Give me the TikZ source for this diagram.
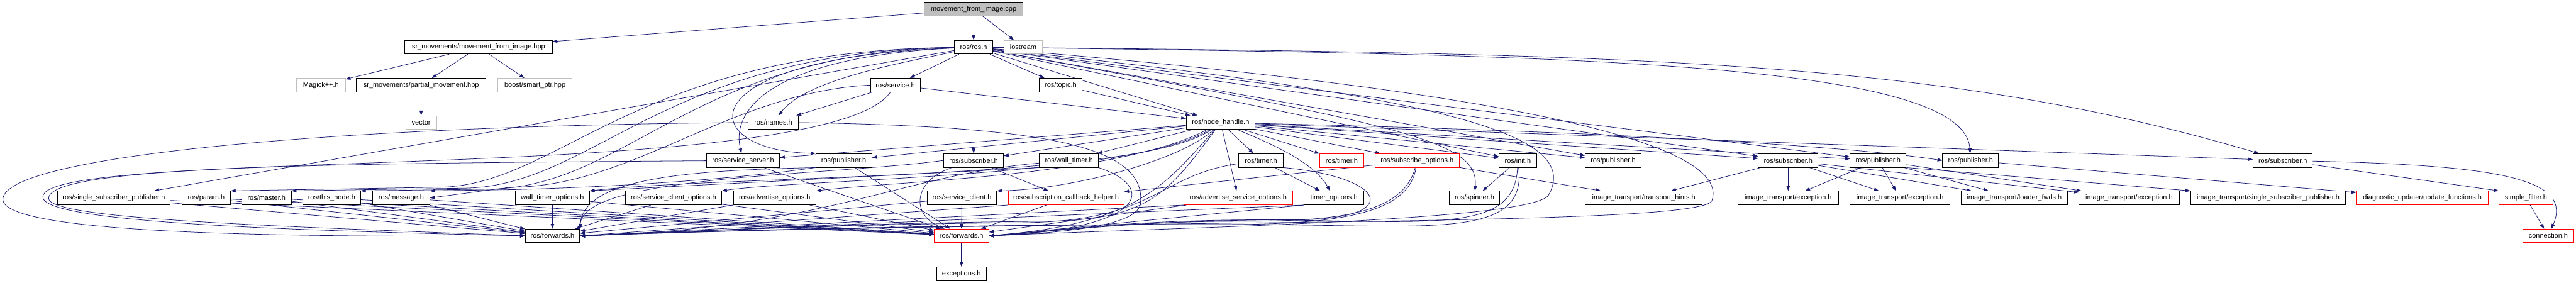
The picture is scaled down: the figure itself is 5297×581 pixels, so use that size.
\documentclass[tikz,border=0pt]{standalone}
\usepackage{fontspec}
\setmainfont{Liberation Sans}
\usetikzlibrary{arrows.meta,backgrounds}
\definecolor{edgeblue}{HTML}{191970}
\definecolor{nodegray}{HTML}{BFBFBF}
\tikzstyle{hdr}=[draw=black, fill=white, line width=1.2pt, minimum height=28pt, inner sep=2pt, font=\fontsize{14.2}{17}\selectfont]
\tikzstyle{extfile}=[hdr, draw=nodegray]
\tikzstyle{cutoff}=[hdr, draw=red]
\tikzstyle{mainfile}=[hdr, fill=nodegray]
\tikzstyle{incl}=[edgeblue, line width=1pt, -{Triangle[length=10pt,width=7pt]}]

\begin{document}
\begin{tikzpicture}[x=1pt,y=1pt]
\begin{scope}[on background layer]
\fill[white] (0,0) rectangle (5297,-581);
\end{scope}
\useasboundingbox (0,0) rectangle (5297,-581);

\node[mainfile, minimum width=203pt] (cpp) at (2002,-19) {movement\_from\_image.cpp};

\node[hdr, minimum width=303pt] (mfih) at (984,-97) {sr\_movements/movement\_from\_image.hpp};
\node[hdr, minimum width=79pt] (rosh) at (2002,-97) {ros/ros.h};
\node[extfile, minimum width=79pt] (iostream) at (2104,-97) {iostream};

\node[extfile, minimum width=100pt] (magick) at (660,-175) {Magick++.h};
\node[hdr, minimum width=267pt] (partial) at (866,-175) {sr\_movements/partial\_movement.hpp};
\node[extfile, minimum width=153pt] (smartptr) at (1100,-175) {boost/smart\_ptr.hpp};
\node[hdr, minimum width=102pt] (service) at (1841,-175) {ros/service.h};
\node[hdr, minimum width=89pt] (topic) at (2181,-175) {ros/topic.h};

\node[extfile, minimum width=63pt] (vector) at (866,-252) {vector};
\node[hdr, minimum width=103pt] (names) at (1590,-252) {ros/names.h};
\node[hdr, minimum width=141pt] (nh) at (2510,-252) {ros/node\_handle.h};

\node[hdr, minimum width=150pt] (srvserver) at (1528,-330) {ros/service\_server.h};
\node[hdr, minimum width=115pt] (pub1) at (1735,-330) {ros/publisher.h};
\node[hdr, minimum width=123pt] (sub1) at (2002,-330) {ros/subscriber.h};
\node[hdr, minimum width=121pt] (walltimer) at (2198,-330) {ros/wall\_timer.h};
\node[hdr, minimum width=91pt] (timer1) at (2593,-330) {ros/timer.h};
\node[cutoff, minimum width=90pt] (timer2) at (2759,-330) {ros/timer.h};
\node[cutoff, minimum width=173pt] (subopts) at (2914,-330) {ros/subscribe\_options.h};
\node[hdr, minimum width=77pt] (init) at (3121,-330) {ros/init.h};
\node[hdr, minimum width=115pt] (pub2) at (3317,-330) {ros/publisher.h};
\node[hdr, minimum width=123pt] (sub2) at (3677,-330) {ros/subscriber.h};
\node[hdr, minimum width=115pt] (pub3) at (3862,-330) {ros/publisher.h};
\node[hdr, minimum width=115pt] (pub4) at (4052,-330) {ros/publisher.h};
\node[hdr, minimum width=122pt] (sub3) at (4694,-330) {ros/subscriber.h};

\node[hdr, minimum width=231pt] (ssp) at (234,-407) {ros/single\_subscriber\_publisher.h};
\node[hdr, minimum width=100pt] (param) at (424,-407) {ros/param.h};
\node[hdr, minimum width=102pt] (master) at (548,-407) {ros/master.h};
\node[hdr, minimum width=119pt] (thisnode) at (682,-407) {ros/this\_node.h};
\node[hdr, minimum width=117pt] (message) at (825,-407) {ros/message.h};
\node[hdr, minimum width=152pt] (wtopts) at (1136,-407) {wall\_timer\_options.h};
\node[hdr, minimum width=198pt] (scopts) at (1385,-407) {ros/service\_client\_options.h};
\node[hdr, minimum width=170pt] (advopts) at (1593,-407) {ros/advertise\_options.h};
\node[hdr, minimum width=143pt] (srvclient) at (1978,-407) {ros/service\_client.h};
\node[cutoff, minimum width=238pt] (schelper) at (2192,-407) {ros/subscription\_callback\_helper.h};
\node[cutoff, minimum width=223pt] (asopts) at (2546,-407) {ros/advertise\_service\_options.h};
\node[hdr, minimum width=123pt] (timeropts) at (2743,-407) {timer\_options.h};
\node[hdr, minimum width=104pt] (spinner) at (3032,-407) {ros/spinner.h};
\node[hdr, minimum width=240pt] (hints) at (3380,-407) {image\_transport/transport\_hints.h};
\node[hdr, minimum width=207pt] (exc1) at (3677,-407) {image\_transport/exception.h};
\node[hdr, minimum width=206pt] (exc2) at (3907,-407) {image\_transport/exception.h};
\node[hdr, minimum width=219pt] (loader) at (4142,-407) {image\_transport/loader\_fwds.h};
\node[hdr, minimum width=207pt] (exc3) at (4378,-407) {image\_transport/exception.h};
\node[hdr, minimum width=319pt] (itssp) at (4664,-407) {image\_transport/single\_subscriber\_publisher.h};
\node[cutoff, minimum width=271pt] (diagupd) at (4981,-407) {diagnostic\_updater/update\_functions.h};
\node[cutoff, minimum width=111pt] (simplefilter) at (5194,-407) {simple\_filter.h};

\node[hdr, minimum width=112pt] (fwd1) at (1136,-485) {ros/forwards.h};
\node[cutoff, minimum width=112pt] (fwd2) at (1977,-485) {ros/forwards.h};
\node[cutoff, minimum width=104pt] (connection) at (5240,-485) {connection.h};

\node[hdr, minimum width=102pt] (exceptions) at (1977,-563) {exceptions.h};

\begin{scope}[on background layer]
\draw[incl] (cpp) -- (mfih);
\draw[incl] (cpp) -- (rosh);
\draw[incl] (cpp) -- (iostream);
\draw[incl] (mfih) -- (magick);
\draw[incl] (mfih) -- (partial);
\draw[incl] (mfih) -- (smartptr);
\draw[incl] (partial) -- (vector);

\draw[incl] (rosh) -- (service);
\draw[incl] (rosh) -- (topic);
\draw[incl] (rosh) -- (nh);
\draw[incl] (rosh) -- (sub1);
\draw[incl] (rosh) .. controls (1880,-125) and (1660,-160) .. (names);
\draw[incl] (rosh) -- (ssp);
\draw[incl] (rosh) .. controls (1620,-115) and (1500,-210) .. (srvserver);
\draw[incl] (rosh) .. controls (1400,-120) and (1430,-310) .. (pub1.north west);
\draw[incl] (rosh) .. controls (1300,-104) and (1150,-384) .. (900,-385) -- (param.north east);
\draw[incl] (rosh) .. controls (1360,-106) and (1220,-386) .. (950,-387) -- (master.north east);
\draw[incl] (rosh) .. controls (1420,-108) and (1290,-388) .. (1000,-389) -- (thisnode.north east);
\draw[incl] (rosh) -- (init);
\draw[incl] (rosh) .. controls (2900,-260) and (3040,-290) .. (spinner);
\draw[incl] (rosh) -- (pub2);
\draw[incl] (rosh) -- (sub2);
\draw[incl] (rosh) -- (pub3);
\draw[incl] (rosh) .. controls (3200,-112) and (4040,-125) .. (pub4);
\draw[incl] (rosh) .. controls (3400,-110) and (4000,-125) .. (sub3);
\draw[incl] (rosh) .. controls (3000,-200) and (3250,-280) .. (3185,-400) .. controls (3160,-455) and (2400,-468) .. (fwd2.east);
\draw[incl] (rosh) .. controls (3150,-190) and (3560,-300) .. (3520,-413) .. controls (3490,-470) and (2200,-448) .. (fwd1.east);

\draw[incl] (service) -- (names);
\draw[incl] (service) -- (nh);
\draw[incl] (service.west) .. controls (1500,-190) and (1300,-385) .. (1050,-385) -- (message.east);
\draw[incl] (service) .. controls (1700,-380) and (88,-300) .. (88,-405) .. controls (88,-458) and (600,-474) .. (fwd1.west);
\draw[incl] (topic) -- (nh);

\draw[incl] (names.west) .. controls (700,-258) and (6,-320) .. (6,-410) .. controls (6,-482) and (600,-488) .. (fwd1.west);
\draw[incl] (names.east) .. controls (2150,-260) and (2360,-300) .. (2345,-420) .. controls (2335,-470) and (2150,-480) .. (fwd2.east);

\draw[incl] (srvserver) .. controls (700,-336) and (100,-340) .. (100,-408) .. controls (100,-452) and (600,-466) .. (fwd1.west);
\draw[incl] (srvserver) -- (fwd2);
\draw[incl] (pub1) -- (fwd2);
\draw[incl] (pub1.south west) .. controls (1450,-350) and (1200,-360) .. (fwd1.north east);
\draw[incl] (pub1.south west) .. controls (1500,-370) and (1250,-385) .. (1050,-390) -- (message.north east);
\draw[incl] (sub1) -- (schelper);
\draw[incl] (sub1) .. controls (1880,-370) and (1870,-440) .. (fwd2);
\draw[incl] (sub1.west) .. controls (1700,-362) and (1200,-360) .. (fwd1.north east);
\draw[incl] (walltimer.south west) -- (wtopts.north east);
\draw[incl] (walltimer.south east) .. controls (2380,-385) and (2360,-470) .. (fwd2.east);
\draw[incl] (walltimer) .. controls (1850,-360) and (1700,-470) .. (fwd1.east);
\draw[incl] (timer1) -- (timeropts);
\draw[incl] (timer1.south east) .. controls (2860,-365) and (2890,-455) .. (2650,-452) .. controls (2350,-452) and (2150,-478) .. (fwd2.east);
\draw[incl] (timer1) .. controls (2380,-360) and (2380,-455) .. (2100,-458) .. controls (1800,-460) and (1500,-472) .. (fwd1.east);
\draw[incl] (subopts) -- (hints);
\draw[incl] (subopts) -- (schelper);
\draw[incl] (subopts) .. controls (2885,-440) and (2750,-455) .. (2550,-455) .. controls (2300,-455) and (2150,-478) .. (fwd2.east);
\draw[incl] (subopts) .. controls (2895,-455) and (2700,-463) .. (2450,-462) .. controls (2100,-461) and (1600,-470) .. (fwd1.east);
\draw[incl] (init) -- (spinner);
\draw[incl] (init) .. controls (3115,-480) and (2950,-455) .. (2600,-452) .. controls (2300,-452) and (2150,-478) .. (fwd2.east);
\draw[incl] (init) .. controls (3140,-490) and (2950,-464) .. (2600,-462) .. controls (2200,-460) and (1600,-468) .. (fwd1.east);

\draw[incl] (ssp) -- (fwd1);
\draw[incl] (ssp) -- (fwd2);
\draw[incl] (param) -- (fwd1);
\draw[incl] (param) -- (fwd2);
\draw[incl] (master) -- (fwd1);
\draw[incl] (master) -- (fwd2);
\draw[incl] (thisnode) -- (fwd1);
\draw[incl] (thisnode) -- (fwd2);
\draw[incl] (message) -- (fwd1);
\draw[incl] (message) -- (fwd2);
\draw[incl] (wtopts) -- (fwd1);
\draw[incl] (wtopts) -- (fwd2);
\draw[incl] (scopts) -- (fwd1);
\draw[incl] (scopts) -- (fwd2);
\draw[incl] (advopts) -- (fwd1);
\draw[incl] (advopts) -- (fwd2);
\draw[incl] (srvclient) -- (fwd1);
\draw[incl] (srvclient) -- (fwd2);
\draw[incl] (schelper.south west) -- (fwd1.east);
\draw[incl] (schelper) -- (fwd2);
\draw[incl] (asopts.south west) -- (fwd1.east);
\draw[incl] (asopts) -- (fwd2);
\draw[incl] (timeropts.south west) -- (fwd1.east);
\draw[incl] (timeropts.south west) -- (fwd2.east);

\draw[incl] (nh) -- (timer1);
\draw[incl] (nh) -- (timer2);
\draw[incl] (nh) -- (subopts);
\draw[incl] (nh) -- (init);
\draw[incl] (nh) -- (pub2);
\draw[incl] (nh) -- (sub2);
\draw[incl] (nh) -- (pub3);
\draw[incl] (nh) .. controls (3300,-270) and (3800,-300) .. (pub4.west);
\draw[incl] (nh) -- (sub3);
\draw[incl] (nh) -- (walltimer);
\draw[incl] (nh) -- (sub1);
\draw[incl] (nh) -- (pub1);
\draw[incl] (nh) -- (srvserver);
\draw[incl] (nh) -- (asopts);
\draw[incl] (nh) .. controls (2600,-290) and (2700,-330) .. (timeropts);
\draw[incl] (nh) .. controls (2430,-330) and (2200,-390) .. (srvclient.north east);
\draw[incl] (nh) .. controls (2350,-370) and (1500,-360) .. (wtopts.north east);
\draw[incl] (nh) .. controls (2330,-365) and (1650,-368) .. (scopts.north east);
\draw[incl] (nh) .. controls (2300,-362) and (1850,-372) .. (advopts.north east);
\draw[incl] (nh) .. controls (2390,-390) and (2330,-460) .. (fwd2.east);
\draw[incl] (nh) .. controls (2400,-400) and (2360,-452) .. (2150,-455) .. controls (1800,-458) and (1500,-472) .. (fwd1.east);

\draw[incl] (sub2) -- (hints);
\draw[incl] (sub2) -- (exc1);
\draw[incl] (sub2) -- (exc2);
\draw[incl] (sub2) -- (loader);
\draw[incl] (sub2) -- (exc3);
\draw[incl] (pub3) -- (exc1);
\draw[incl] (pub3) -- (exc2);
\draw[incl] (pub3) -- (loader);
\draw[incl] (pub3) -- (exc3);
\draw[incl] (pub3.south east) -- (itssp.north west);
\draw[incl] (pub4) -- (diagupd);
\draw[incl] (sub3) -- (simplefilter.north west);
\draw[incl] (sub3) .. controls (5150,-340) and (5290,-370) .. (connection);
\draw[incl] (simplefilter) -- (connection);
\draw[incl] (fwd2) -- (exceptions);
\end{scope}
\end{tikzpicture}
\end{document}
